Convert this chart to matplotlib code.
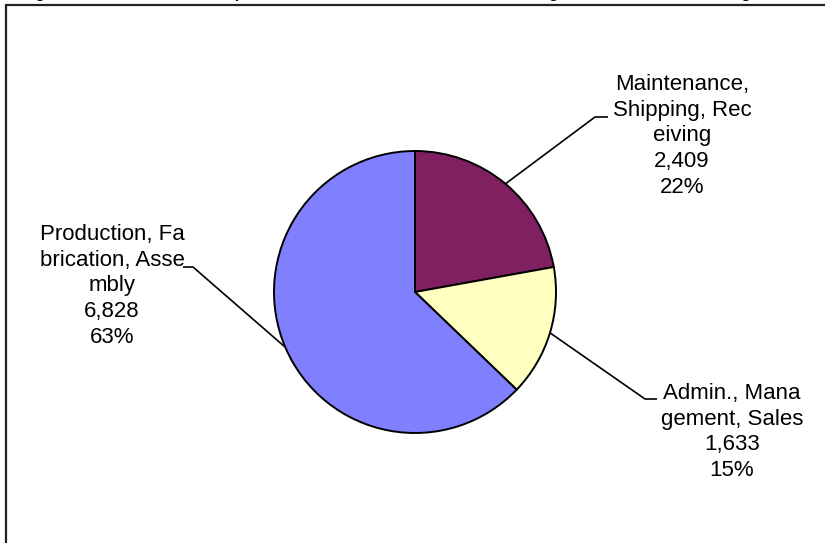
import numpy as np
import matplotlib
matplotlib.use("Agg")
import matplotlib.pyplot as plt
from matplotlib.textpath import TextPath
from matplotlib.font_manager import FontProperties

# Occupation groups and headcounts
categories = ["Maintenance, Shipping, Receiving",
              "Admin., Management, Sales",
              "Production, Fabrication, Assembly"]
label_lines = ["Maintenance,\nShipping, Rec\neiving",
               "Admin., Mana\ngement, Sales",
               "Production, Fa\nbrication, Asse\nmbly"]
counts = [2409, 1633, 6828]
percent_labels = ["22%", "15%", "63%"]
colors = ["#802060", "#FFFFC0", "#8080FF"]

title = ("Figure 2. Staff in Each Occupation Area at the Lakeside "
         "Manufacturing and Warehouse Building")

W, H = 825, 543
fig = plt.figure(figsize=(W / 100, H / 100), dpi=100)
ax = fig.add_axes([0, 0, 1, 1])

def py(y):
    # convert a top-down pixel row to the axes' bottom-up coordinate
    return H - y

cx, cy, r = 415, 292, 141
wedges, _ = ax.pie(counts, colors=colors, startangle=90, counterclock=False,
                   center=(cx, py(cy)), radius=r,
                   wedgeprops=dict(edgecolor="black", linewidth=1.4))
ax.set_xlim(0, W)
ax.set_ylim(0, H)
ax.set_aspect("auto")
ax.axis("off")

# label block centres, leader elbows and tail ends (pixel positions)
label_pos = [(682, 136), (732, 432), (112, 286)]
elbows = [((595, 117), (608, 117)),
          ((645, 399), (657, 399)),
          ((193, 267), (183, 267))]

for w, lines, n, pct, (lx, ly), (elb, tail) in zip(
        wedges, label_lines, counts, percent_labels, label_pos, elbows):
    mid = np.deg2rad((w.theta1 + w.theta2) / 2)
    sx, sy = cx + r * np.cos(mid), py(cy) + r * np.sin(mid)
    ax.plot([sx, elb[0], tail[0]], [sy, py(elb[1]), py(tail[1])],
            color="black", lw=1.2, solid_capstyle="butt", zorder=1)
    ax.text(lx, py(ly), f"{lines}\n{n:,}\n{pct}", ha="center", va="center",
            fontsize=16, family="Liberation Sans", linespacing=1.29,
            color="black")

# chart frame (runs off the right and bottom edges)
ax.plot([6, 6, W + 5], [-5, py(4.5), py(4.5)], color="#222222", lw=1.6,
        solid_joinstyle="miter", clip_on=False)

# title sits above the frame; size it so the first and last "g" land at
# x = 40 and x = 742
tprop = FontProperties(family="Liberation Sans", weight="bold")
def adv(s, size):
    return TextPath((0, 0), s, size=size, prop=tprop).get_extents().x1
i_first, i_mid, i_last = title.index("g"), title.index("Manufacturing") + 12, title.rindex("g")
ref_size = 100.0
p1 = adv(title[:i_first] + "g", ref_size) - 0.5 * adv("g", ref_size)
p2 = adv(title[:i_last] + "g", ref_size) - 0.5 * adv("g", ref_size)
px_size = ref_size * (742 - 40) / (p2 - p1)
tx = 40 - p1 * px_size / ref_size
ax.text(tx, py(-2.3), title, ha="left", va="baseline",
        fontsize=px_size * 72 / 100, fontweight="bold",
        family="Liberation Sans", color="black")

fig.savefig("out.png", dpi=100)
